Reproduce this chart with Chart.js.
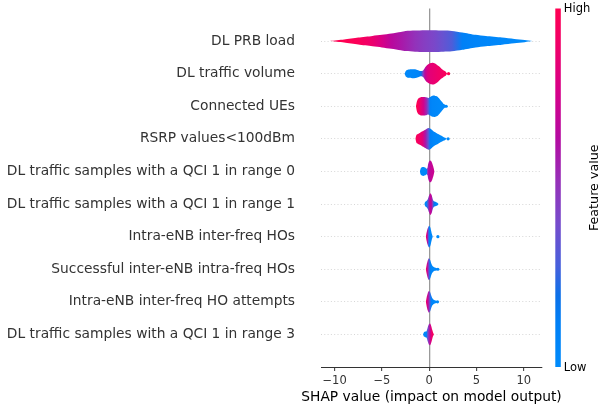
<!DOCTYPE html>
<html>
<head>
<meta charset="utf-8">
<script src="https://cdn.jsdelivr.net/npm/chart.js@4"></script>
<style>
  html, body { margin: 0; padding: 0; background: #fff; }
  #wrap { width: 601px; height: 408px; position: relative; }
</style>
</head>
<body>
<div id="wrap"><canvas id="shapChart"></canvas></div>
<script>
// Features, top row first
const features = [
    'DL PRB load',
    'DL traffic volume',
    'Connected UEs',
    'RSRP values<100dBm',
    'DL traffic samples with a QCI 1 in range 0',
    'DL traffic samples with a QCI 1 in range 1',
    'Intra-eNB inter-freq HOs',
    'Successful inter-eNB intra-freq HOs',
    'Intra-eNB inter-freq HO attempts',
    'DL traffic samples with a QCI 1 in range 3'
];

// SHAP value grid for each violin
const violinX = [
    [-10.5, -9, -7.5, -6, -5, -4, -3, -2.5, -1.5, -0.5, 0.5, 1.5, 2.4, 3.5, 4.9, 6, 7.7, 9, 10.1, 10.9],
    [-2.6, -2.45, -2.2, -1.8, -1.4, -1.1, -0.85, -0.65, -0.45, -0.2, 0.1, 0.4, 0.7, 1.0, 1.3, 1.5, 1.7, 1.9],
    [-1.4, -1.3, -1.15, -0.9, -0.6, -0.3, -0.1, 0.1, 0.35, 0.6, 0.85, 1.1, 1.35, 1.55, 1.75, 1.9],
    [-1.45, -1.35, -1.25, -1.0, -0.7, -0.4, -0.1, 0.1, 0.45, 0.75, 1.0, 1.25, 1.5, 1.7, 1.85],
    [-0.98, -0.9, -0.78, -0.6, -0.42, -0.28, -0.18, -0.1, 0.0, 0.12, 0.25, 0.38, 0.48, 0.55],
    [-0.5, -0.42, -0.3, -0.15, 0.0, 0.12, 0.25, 0.38, 0.5, 0.65, 0.8, 0.92, 1.0],
    [-0.35, -0.28, -0.18, -0.08, 0.02, 0.12, 0.22, 0.3, 0.38],
    [-0.35, -0.27, -0.15, -0.03, 0.08, 0.2, 0.32, 0.45, 0.6, 0.75, 0.9, 1.0],
    [-0.35, -0.27, -0.15, -0.03, 0.08, 0.2, 0.32, 0.45, 0.6, 0.75, 0.88, 0.95],
    [-0.65, -0.55, -0.42, -0.28, -0.15, -0.02, 0.1, 0.22, 0.33, 0.42, 0.5]
];

// Density at each grid point, scaled so the widest point is 1
const violinWidth = [
    [0, 0.14, 0.32, 0.48, 0.58, 0.7, 0.84, 0.92, 0.97, 1.0, 1.0, 0.97, 0.94, 0.8, 0.58, 0.47, 0.33, 0.2, 0.1, 0],
    [0, 0.28, 0.38, 0.41, 0.39, 0.3, 0.24, 0.3, 0.55, 0.8, 0.95, 1.0, 0.9, 0.7, 0.45, 0.32, 0.22, 0],
    [0, 0.45, 0.72, 0.84, 0.85, 0.82, 0.76, 0.86, 0.97, 0.98, 0.9, 0.68, 0.42, 0.2, 0.1, 0],
    [0, 0.35, 0.42, 0.55, 0.7, 0.85, 1.0, 0.95, 0.7, 0.55, 0.42, 0.3, 0.18, 0.1, 0],
    [0, 0.28, 0.38, 0.41, 0.36, 0.25, 0.35, 0.7, 0.93, 1.0, 0.9, 0.6, 0.3, 0],
    [0, 0.2, 0.28, 0.45, 0.8, 1.0, 0.85, 0.45, 0.25, 0.2, 0.15, 0.08, 0],
    [0, 0.35, 0.7, 0.92, 1.0, 0.85, 0.5, 0.2, 0],
    [0, 0.4, 0.8, 1.0, 0.9, 0.6, 0.35, 0.22, 0.15, 0.12, 0.08, 0],
    [0, 0.4, 0.8, 1.0, 0.92, 0.62, 0.35, 0.22, 0.15, 0.1, 0.06, 0],
    [0, 0.2, 0.26, 0.3, 0.65, 0.95, 1.0, 0.75, 0.4, 0.15, 0]
];

// Mean feature value (0 = low, 1 = high) at each grid point
const violinValue = [
    [1, 1, 0.97, 0.88, 0.78, 0.66, 0.6, 0.57, 0.51, 0.46, 0.42, 0.36, 0.3, 0.12, 0.08, 0.05, 0.03, 0.02, 0.01, 0],
    [0.03, 0.03, 0.04, 0.04, 0.05, 0.08, 0.2, 0.45, 0.65, 0.78, 0.84, 0.86, 0.88, 0.9, 0.92, 0.94, 0.96, 0.98],
    [1, 1, 0.97, 0.86, 0.75, 0.55, 0.35, 0.1, 0.05, 0.04, 0.03, 0.02, 0.02, 0.02, 0.02, 0],
    [0.98, 0.96, 0.95, 0.9, 0.82, 0.6, 0.35, 0.12, 0.05, 0.03, 0.02, 0.02, 0.02, 0.01, 0],
    [0.03, 0.03, 0.03, 0.03, 0.04, 0.08, 0.45, 0.6, 0.65, 0.68, 0.7, 0.72, 0.72, 0.72],
    [0.03, 0.03, 0.05, 0.3, 0.6, 0.7, 0.62, 0.4, 0.2, 0.08, 0.05, 0.03, 0.03],
    [0.9, 0.85, 0.6, 0.3, 0.1, 0.05, 0.03, 0.03, 0.03],
    [0.9, 0.85, 0.6, 0.35, 0.15, 0.06, 0.04, 0.03, 0.03, 0.03, 0.03, 0.03],
    [0.9, 0.85, 0.7, 0.55, 0.3, 0.1, 0.05, 0.03, 0.03, 0.03, 0.03, 0.03],
    [0.03, 0.03, 0.04, 0.1, 0.4, 0.55, 0.7, 0.85, 0.92, 0.95, 0.95]
];

// Isolated samples drawn as dots
const outlierRow = [1, 2, 3, 6, 7, 8];
const outlierX = [2.05, 1.8, 2.0, 0.92, 0.92, 0.88];
const outlierValue = [1, 0, 0, 0, 0, 0];

const xTicks = [-10, -5, 0, 5, 10];
const xTitle = 'SHAP value (impact on model output)';

// half-height of the widest violin, in rows
const maxHalf = 1 / 3;

// red_blue feature colormap (low -> high)
const cmapStops = [
    [0.00, [0, 139, 251]],
    [0.12, [0, 128, 246]],
    [0.20, [12, 112, 232]],
    [0.28, [70, 96, 220]],
    [0.40, [118, 76, 204]],
    [0.52, [150, 48, 184]],
    [0.64, [180, 10, 160]],
    [0.77, [214, 0, 136]],
    [0.90, [240, 0, 104]],
    [1.00, [255, 0, 82]]
];

function featureColor(v) {
    v = Math.max(0, Math.min(1, v));
    for (let i = 1; i < cmapStops.length; i++) {
        const [p1, c1] = cmapStops[i];
        if (v <= p1) {
            const [p0, c0] = cmapStops[i - 1];
            const t = (v - p0) / (p1 - p0);
            const c = c0.map((a, k) => Math.round(a + (c1[k] - a) * t));
            return 'rgb(' + c.join(',') + ')';
        }
    }
    return 'rgb(255,0,82)';
}

function violinFill(chart, row) {
    const xScale = chart.scales.x;
    if (!chart.chartArea || !xScale) return 'rgba(0,0,0,0)';
    const xs = violinX[row], vs = violinValue[row];
    const p0 = xScale.getPixelForValue(xs[0]);
    const p1 = xScale.getPixelForValue(xs[xs.length - 1]);
    const grad = chart.ctx.createLinearGradient(p0, 0, p1, 0);
    xs.forEach((x, i) => {
        grad.addColorStop((xScale.getPixelForValue(x) - p0) / (p1 - p0), featureColor(vs[i]));
    });
    return grad;
}

// one closed outline per feature: top edge left to right, bottom edge back
const violinSets = features.map((name, row) => {
    const xs = violinX[row], ws = violinWidth[row];
    const top = xs.map((x, i) => ({x: x, y: row - ws[i] * maxHalf}));
    const bottom = xs.map((x, i) => ({x: x, y: row + ws[i] * maxHalf})).reverse();
    return {
        type: 'line',
        label: name,
        data: top.concat(bottom),
        fill: 'shape',
        borderWidth: 0,
        borderColor: 'rgba(0,0,0,0)',
        pointRadius: 0,
        tension: 0.25,
        backgroundColor: ctx => violinFill(ctx.chart, row)
    };
});

const dotSet = {
    type: 'scatter',
    label: 'outliers',
    data: outlierX.map((x, i) => ({x: x, y: outlierRow[i]})),
    pointRadius: 1.6,
    pointBorderWidth: 0,
    pointBackgroundColor: outlierValue.map(featureColor),
    order: 1
};

// x-axis title (wider than the plot area, so drawn here) and the colour bar
const colorBar = {
    id: 'colorBar',
    afterDraw(chart) {
        const {ctx, chartArea} = chart;
        ctx.save();
        ctx.fillStyle = '#000';
        ctx.font = '13.8px "DejaVu Sans"';
        ctx.textAlign = 'center';
        ctx.textBaseline = 'alphabetic';
        ctx.fillText(xTitle, (chartArea.left + chartArea.right) / 2, 401);

        const x = chartArea.right + 13.3;
        const w = 5.5;
        const top = chartArea.top, bottom = chartArea.bottom;
        const grad = ctx.createLinearGradient(0, bottom, 0, top);
        cmapStops.forEach(([p, c]) => grad.addColorStop(p, 'rgb(' + c.join(',') + ')'));
        ctx.fillStyle = grad;
        ctx.fillRect(x, top, w, bottom - top);
        ctx.fillStyle = '#000';
        ctx.font = '11.5px "DejaVu Sans"';
        ctx.textAlign = 'left';
        ctx.textBaseline = 'middle';
        ctx.fillText('High', x + w + 3, top + 1);
        ctx.fillText('Low', x + w + 3, bottom + 1);
        ctx.translate(595, (top + bottom) / 2);
        ctx.rotate(-Math.PI / 2);
        ctx.textAlign = 'center';
        ctx.font = '12.7px "DejaVu Sans"';
        ctx.fillText('Feature value', 0, 0);
        ctx.restore();
    }
};

Chart.defaults.font.family = '"DejaVu Sans", sans-serif';

new Chart(document.getElementById('shapChart'), {
    type: 'line',
    data: { datasets: [dotSet].concat(violinSets) },
    options: {
        responsive: true,
        maintainAspectRatio: false,
        animation: false,
        events: [],
        layout: { padding: { top: 8.5, right: 59, bottom: 0, left: 0 } },
        plugins: {
            legend: { display: false },
            tooltip: { enabled: false }
        },
        scales: {
            x: {
                type: 'linear',
                min: -11.44,
                max: 11.93,
                afterBuildTicks: scale => { scale.ticks = xTicks.map(v => ({value: v})); },
                afterFit: scale => {
                    scale.height = 41;
                    scale.paddingLeft = 0;
                    scale.paddingRight = 0;
                },
                ticks: {
                    color: '#333333',
                    font: { size: 11.5 },
                    padding: 3,
                    maxRotation: 0,
                    callback: v => (v < 0 ? '\u2212' + Math.abs(v) : String(v))
                },
                grid: {
                    color: ctx => (ctx.tick && ctx.tick.value === 0 ? '#999999' : 'rgba(0,0,0,0)'),
                    lineWidth: 1.3,
                    drawTicks: true,
                    tickLength: 4,
                    tickColor: '#333333',
                    tickWidth: 1
                },
                border: { display: true, color: '#333333', width: 1 }
            },
            y: {
                type: 'linear',
                min: -1,
                max: 10,
                reverse: true,
                afterBuildTicks: scale => { scale.ticks = features.map((f, i) => ({value: i})); },
                afterFit: scale => {
                    scale.width = 321;
                    scale.paddingTop = 0;
                    scale.paddingBottom = 0;
                },
                ticks: {
                    color: '#333333',
                    font: { size: 13.8 },
                    padding: 26,
                    callback: v => features[v]
                },
                grid: {
                    color: '#cccccc',
                    lineWidth: 0.8,
                    drawTicks: false
                },
                border: { display: false, dash: [1, 2.3] }
            }
        }
    },
    plugins: [colorBar]
});
</script>
</body>
</html>
